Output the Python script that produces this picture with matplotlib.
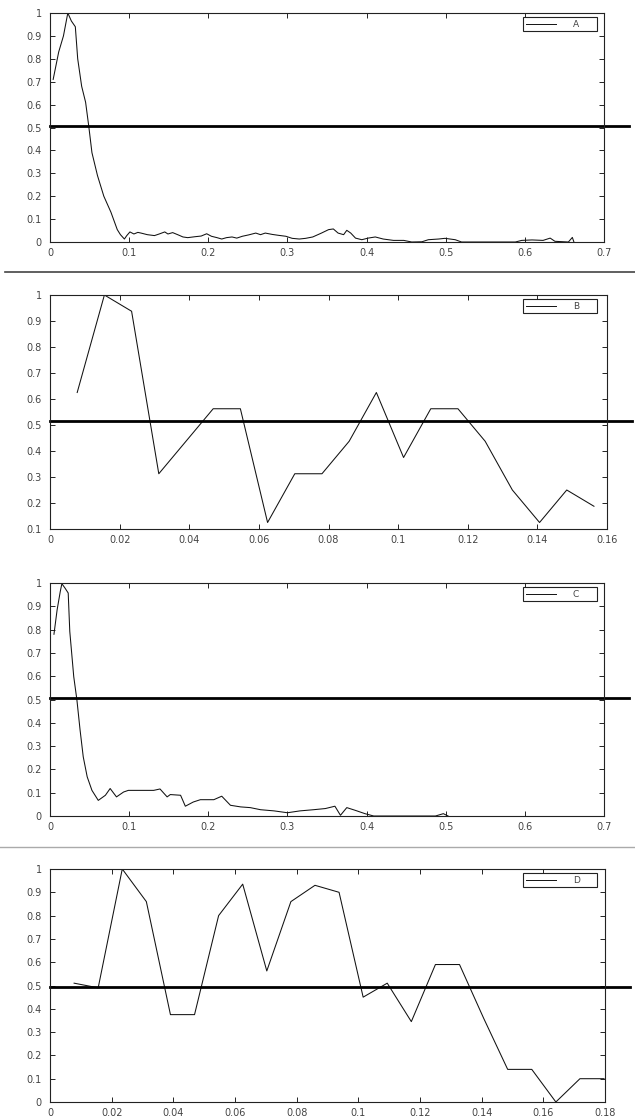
import numpy as np
import matplotlib
matplotlib.use('Agg')
import matplotlib.pyplot as plt
from matplotlib.lines import Line2D

# ---- data ----
a_x = [0.004, 0.011, 0.017, 0.0225, 0.027, 0.032, 0.035, 0.040, 0.045, 0.049,
       0.053, 0.060, 0.068, 0.077, 0.085, 0.089, 0.094, 0.097, 0.101,
       0.106, 0.111, 0.115, 0.123, 0.132, 0.138, 0.145, 0.149, 0.155, 0.162,
       0.168, 0.174, 0.183, 0.191, 0.198, 0.204, 0.211, 0.217, 0.223, 0.230,
       0.236, 0.243, 0.251, 0.260, 0.266, 0.272, 0.281, 0.289, 0.298, 0.306,
       0.315, 0.323, 0.332, 0.343, 0.352, 0.358, 0.364, 0.371, 0.375, 0.380,
       0.386, 0.394, 0.402, 0.411, 0.421, 0.434, 0.447, 0.457, 0.470, 0.478,
       0.491, 0.499, 0.512, 0.520, 0.588, 0.596, 0.609, 0.623, 0.632, 0.638,
       0.655, 0.660, 0.662]
a_y = [0.71, 0.83, 0.90, 1.0, 0.965, 0.94, 0.80, 0.68, 0.61, 0.505,
       0.39, 0.29, 0.20, 0.13, 0.054, 0.032, 0.013, 0.028, 0.044,
       0.035, 0.042, 0.039, 0.032, 0.028, 0.035, 0.044, 0.035, 0.041, 0.031,
       0.022, 0.019, 0.023, 0.026, 0.036, 0.025, 0.019, 0.013, 0.019, 0.022,
       0.017, 0.025, 0.031, 0.039, 0.032, 0.039, 0.033, 0.029, 0.025, 0.016,
       0.013, 0.016, 0.022, 0.039, 0.054, 0.057, 0.039, 0.032, 0.051, 0.039,
       0.017, 0.010, 0.017, 0.022, 0.013, 0.007, 0.007, 0.0, 0.001, 0.010,
       0.013, 0.016, 0.010, 0.0, 0.0, 0.007, 0.009, 0.007, 0.017, 0.003,
       0.0, 0.02, 0.0]

b_x = [k / 128 for k in range(1, 21)]
b_y = [0.625, 1.0, 0.9375, 0.3125, 0.4375, 0.5625, 0.5625, 0.125, 0.3125, 0.3125,
       0.4375, 0.625, 0.375, 0.5625, 0.5625, 0.4375, 0.25, 0.125, 0.25, 0.1875]

c_x = [0.005, 0.009, 0.013, 0.015, 0.019, 0.023, 0.025, 0.030, 0.034, 0.038,
       0.042, 0.047, 0.053, 0.061, 0.070, 0.076, 0.084, 0.093, 0.099, 0.114,
       0.131, 0.139, 0.148, 0.152, 0.165, 0.171, 0.181, 0.190, 0.207, 0.217,
       0.228, 0.241, 0.253, 0.266, 0.283, 0.300, 0.316, 0.333, 0.348, 0.360,
       0.367, 0.375, 0.386, 0.398, 0.409, 0.487, 0.497, 0.503]
c_y = [0.78, 0.885, 0.964, 0.997, 0.978, 0.957, 0.792, 0.598, 0.498, 0.369,
       0.254, 0.168, 0.110, 0.067, 0.089, 0.118, 0.082, 0.103, 0.110, 0.110,
       0.110, 0.116, 0.082, 0.092, 0.089, 0.042, 0.060, 0.070, 0.070, 0.085,
       0.046, 0.039, 0.036, 0.027, 0.022, 0.014, 0.022, 0.027, 0.032, 0.042,
       0.003, 0.036, 0.024, 0.010, 0.0, 0.0, 0.010, 0.0]

d_x = [k / 128 for k in range(1, 24)]
d_y = [0.51, 0.49, 1.0, 0.86, 0.375, 0.375, 0.80, 0.935, 0.5625, 0.86,
       0.93, 0.90, 0.45, 0.51, 0.345, 0.59, 0.59, 0.36, 0.14, 0.14,
       0.0, 0.10, 0.10]

labels = ['A', 'B', 'C', 'D']
thresholds = [0.505, 0.515, 0.505, 0.495]
xlims = [(0, 0.7), (0, 0.16), (0, 0.7), (0, 0.18)]
ylims = [(0, 1), (0.1, 1), (0, 1), (0, 1)]
xticks = [np.arange(0, 0.71, 0.1), np.arange(0, 0.161, 0.02),
          np.arange(0, 0.71, 0.1), np.arange(0, 0.181, 0.02)]
yticks = [np.arange(0, 1.01, 0.1), np.arange(0.1, 1.01, 0.1),
          np.arange(0, 1.01, 0.1), np.arange(0, 1.01, 0.1)]

# axes boxes in pixels: left, top, right, bottom
W, H = 635, 1118
boxes = [(50, 13, 604, 242), (50, 295, 607, 529),
         (50, 583, 604, 816), (50, 869, 605, 1102)]

def fmt(v):
  s = ('%.2f' % v).rstrip('0').rstrip('.')
  return s if s else '0'

def panel(fig, i, xs, ys):
  l, t, r, b = boxes[i]
  ax = fig.add_axes([l / W, 1 - b / H, (r - l) / W, (b - t) / H])
  ax.plot(xs, ys, color='#111111', lw=0.75, label=labels[i])
  ax.plot([0, 1.045], [thresholds[i]] * 2, color='k', lw=2.0,
          transform=ax.get_yaxis_transform(), clip_on=False)
  ax.set_xlim(xlims[i])
  ax.set_ylim(ylims[i])
  ax.set_xticks(xticks[i])
  ax.set_xticklabels([fmt(v) for v in xticks[i]])
  ax.set_yticks(yticks[i])
  ax.set_yticklabels([fmt(v) for v in yticks[i]])
  ax.tick_params(direction='in', top=True, right=True, length=3.5,
                 width=0.6, labelsize=7, labelcolor='#444444')
  ax.tick_params(axis='y', pad=6)
  ax.tick_params(axis='x', pad=4)
  for sp in ax.spines.values():
    sp.set_color('#222222')
    sp.set_linewidth(0.8)
  w = r - l
  h = b - t
  bb = ((523 - l) / w, 1 - 19 / h, 74 / w, 15 / h)
  leg = ax.legend(handles=[Line2D([], [], color='#111111', lw=0.7)],
                  labels=[labels[i]], loc='upper right', bbox_to_anchor=bb,
                  mode='expand', borderaxespad=0, fontsize=6.5, handlelength=3.4,
                  handletextpad=1.8, borderpad=0.3, fancybox=False,
                  framealpha=1, edgecolor='#222222')
  leg.get_frame().set_linewidth(0.8)
  for tx in leg.get_texts():
    tx.set_color('#444444')
  return ax

fig = plt.figure(figsize=(W / 100, H / 100), dpi=100)
panel(fig, 0, a_x, a_y)
panel(fig, 1, b_x, b_y)
panel(fig, 2, c_x, c_y)
panel(fig, 3, d_x, d_y)

# separators between the pasted panels
fig.add_artist(Line2D([5 / W, 1], [1 - 272 / H] * 2, color='#444444', lw=1.2))
fig.add_artist(Line2D([0, 1], [1 - 847 / H] * 2, color='#aaaaaa', lw=1.0))

fig.savefig('out.png', dpi=100)
